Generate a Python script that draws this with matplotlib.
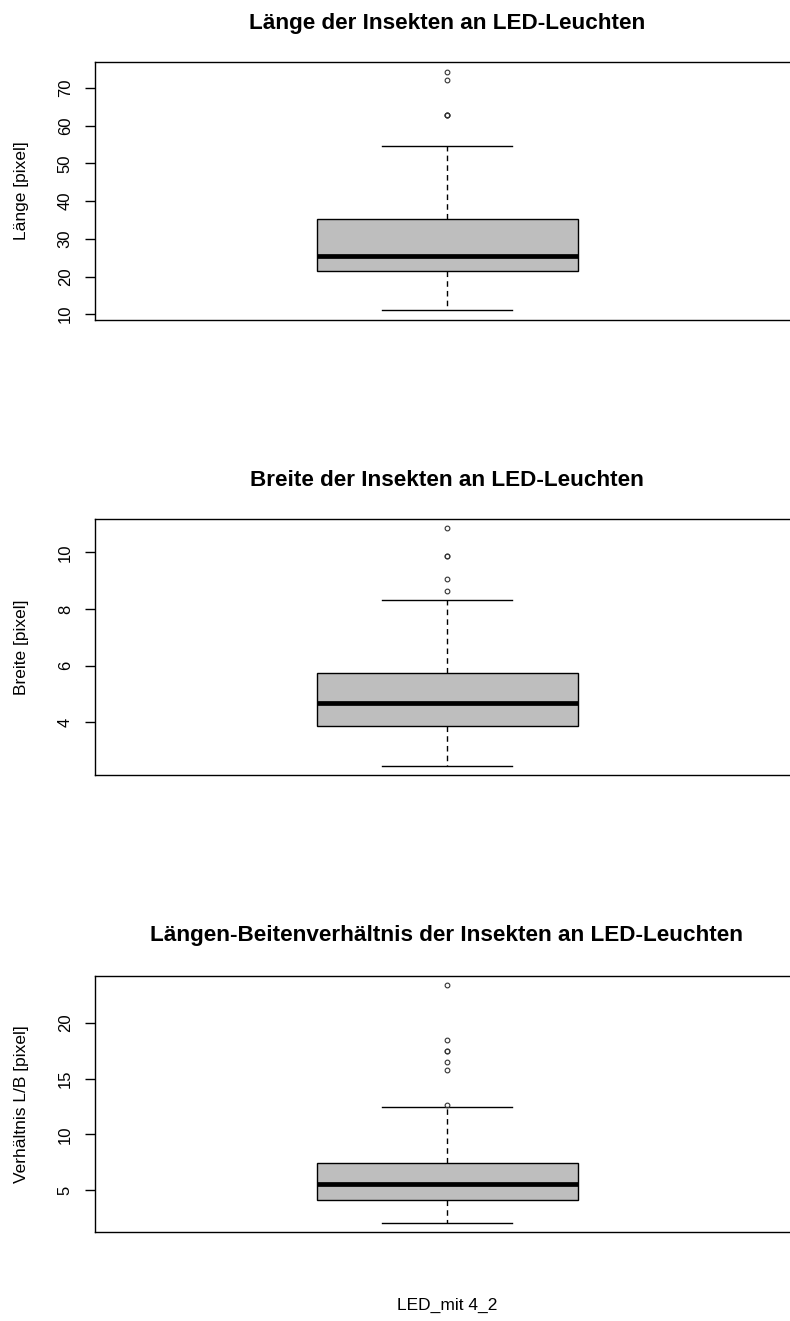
import matplotlib
matplotlib.use("Agg")
import matplotlib.pyplot as plt

plt.rcParams['font.family'] = ['Liberation Sans', 'DejaVu Sans']

titles = ["Länge der Insekten an LED-Leuchten",
          "Breite der Insekten an LED-Leuchten",
          "Längen-Beitenverhältnis der Insekten an LED-Leuchten"]
ylabels = ["Länge [pixel]", "Breite [pixel]", "Verhältnis L/B [pixel]"]
xlabel = "LED_mit 4_2"

# five-number summaries: whislo, q1, median, q3, whishi
laenge_stats = [11.0, 21.5, 25.4, 35.4, 54.7]
laenge_fliers = [74.4, 72.2, 62.9, 62.9, 62.9]
breite_stats = [2.47, 3.85, 4.66, 5.72, 8.3]
breite_fliers = [10.84, 9.88, 9.88, 9.07, 8.65]
ratio_stats = [2.13, 4.1, 5.54, 7.42, 12.44]
ratio_fliers = [23.32, 18.43, 17.44, 17.44, 16.45, 15.8, 12.6]

yticks = [[10, 20, 30, 40, 50, 60, 70], [4, 6, 8, 10], [5, 10, 15, 20]]

W, H = 790, 1321
fig = plt.figure(figsize=(W / 100, H / 100), dpi=100)

panels = [(laenge_stats, laenge_fliers), (breite_stats, breite_fliers),
          (ratio_stats, ratio_fliers)]
tops = [62, 519, 976]
bottoms = [320, 775, 1232]
title_y = [23, 480, 936]
left_px, right_px = 95, 799
center_px = 447
box_px = 261  # width of box in pixels

for i, (st, fl) in enumerate(panels):
    ax = fig.add_axes([left_px / W, 1 - bottoms[i] / H,
                       (right_px - left_px) / W, (bottoms[i] - tops[i]) / H])
    stats = [dict(whislo=st[0], q1=st[1], med=st[2], q3=st[3], whishi=st[4],
                  fliers=fl)]
    ax.bxp(stats, positions=[1], widths=0.8, patch_artist=True,
           boxprops=dict(facecolor='#BEBEBE', edgecolor='black', linewidth=1.0),
           medianprops=dict(color='black', linewidth=3.4, solid_capstyle='butt'),
           whiskerprops=dict(color='black', linewidth=1.0, linestyle=(0, (4, 3))),
           capprops=dict(color='black', linewidth=1.0),
           capwidths=0.4,
           flierprops=dict(marker='o', markersize=3.4, markerfacecolor='none',
                           markeredgecolor='#333333', markeredgewidth=0.8))
    # x scale so box width in data (0.8) equals box_px pixels
    upp = 0.8 / box_px
    ax.set_xlim(1 - (center_px - left_px) * upp, 1 + (right_px - center_px) * upp)
    vals = st + fl
    lo, hi = min(vals), max(vals)
    ext = 0.04 * (hi - lo)
    ax.set_ylim(lo - ext, hi + ext)
    ax.set_xticks([])
    ax.set_yticks(yticks[i])
    ax.set_yticklabels([str(t) for t in yticks[i]], rotation=90, va='center')
    ax.tick_params(axis='y', length=7, width=1.0, pad=9, labelsize=12)
    for s in ax.spines.values():
        s.set_linewidth(1.0)
    fig.text(center_px / W, 1 - title_y[i] / H, titles[i], ha='center',
             va='center', fontsize=16.2, fontweight='bold')
    fig.text(22 / W, 1 - (tops[i] + bottoms[i]) / 2 / H, ylabels[i],
             rotation=90, ha='center', va='center', fontsize=12.5)

fig.text(center_px / W, 1 - 1305 / H, xlabel, ha='center', va='center',
         fontsize=12.5)

fig.savefig("out.png", dpi=100)
